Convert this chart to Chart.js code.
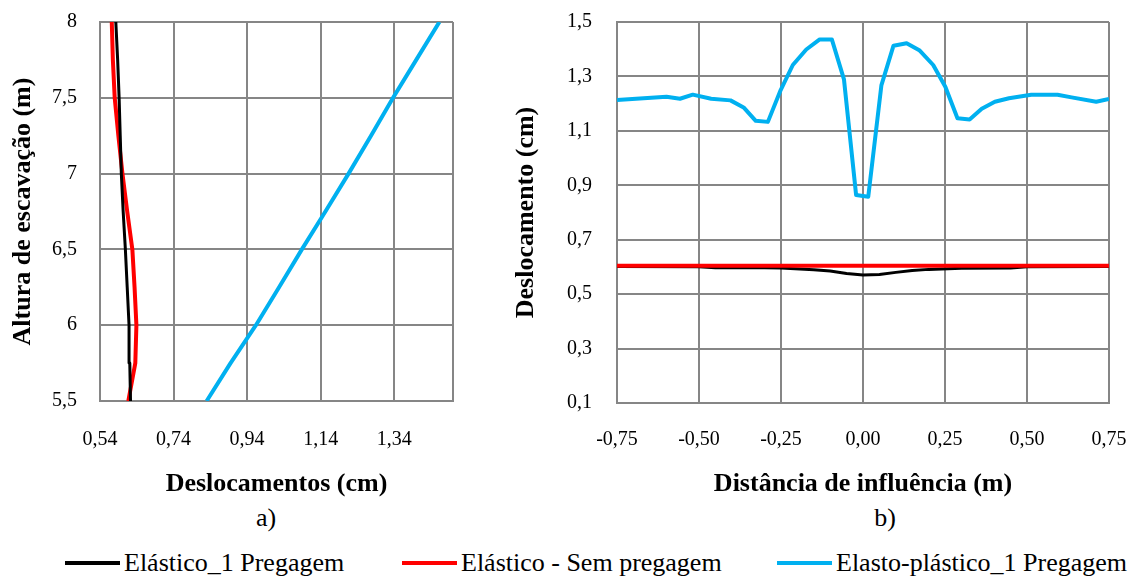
<!DOCTYPE html>
<html>
<head>
<meta charset="utf-8">
<script src="https://cdn.jsdelivr.net/npm/chart.js@4/dist/chart.umd.min.js"></script>
<style>
  html, body { margin: 0; padding: 0; background: #fff; }
  body { width: 1135px; height: 579px; position: relative; overflow: hidden; font-family: "Liberation Serif", serif; }
  #wrapA { position: absolute; left: 0; top: 0; width: 480px; height: 500px; }
  #wrapB { position: absolute; left: 490px; top: 0; width: 645px; height: 500px; }
  .sub { position: absolute; top: 503px; font-size: 26px; color: #000; transform: translateX(-50%); }
  .leg { position: absolute; top: 548px; height: 30px; display: flex; align-items: center; font-size: 26px; color: #000; white-space: nowrap; }
  .leg i { display: inline-block; width: 55px; height: 4px; margin-right: 4px; }
</style>
</head>
<body>
<div id="wrapA"><canvas id="chartA"></canvas></div>
<div id="wrapB"><canvas id="chartB"></canvas></div>
<div class="sub" style="left:266px">a)</div>
<div class="sub" style="left:885px">b)</div>
<div id="legend"></div>
<script>
// ---------- series names / colours ----------
const seriesNames = ["Elástico_1 Pregagem", "Elástico - Sem pregagem", "Elasto-plástico_1 Pregagem"];
const seriesColors = ["#000000", "#ff0000", "#00b0f0"];
const seriesWidths = [3, 4, 4];

// ---------- chart a) ----------
const heightsA = [5.5, 5.75, 6, 6.25, 6.5, 6.75, 7, 7.25, 7.5, 7.75, 8];
const blackA = [0.623, 0.621, 0.619, 0.614, 0.609, 0.603, 0.598, 0.595, 0.592, 0.588, 0.583];
const redA   = [0.617, 0.636, 0.639, 0.634, 0.628, 0.614, 0.601, 0.590, 0.580, 0.575, 0.572];
const blueA  = [0.830, 0.895, 0.964, 1.027, 1.089, 1.153, 1.216, 1.277, 1.337, 1.400, 1.463];
const xTicksA = [0.54, 0.74, 0.94, 1.14, 1.34, 1.50];
const xLabelsA = ["0,54", "0,74", "0,94", "1,14", "1,34", ""];
const yTicksA = [5.5, 6, 6.5, 7, 7.5, 8];
const yLabelsA = ["5,5", "6", "6,5", "7", "7,5", "8"];

// ---------- chart b) ----------
const blueXB = [-0.75, -0.599, -0.558, -0.519, -0.463, -0.404, -0.364, -0.327, -0.290, -0.251, -0.214, -0.173, -0.132, -0.095, -0.058, -0.021, 0.016, 0.056, 0.093, 0.133, 0.173, 0.214, 0.251, 0.288, 0.325, 0.362, 0.402, 0.445, 0.513, 0.593, 0.636, 0.711, 0.75];
const blueYB = [1.213, 1.225, 1.218, 1.233, 1.218, 1.212, 1.186, 1.137, 1.133, 1.250, 1.342, 1.399, 1.436, 1.436, 1.289, 0.864, 0.858, 1.267, 1.413, 1.422, 1.395, 1.342, 1.262, 1.146, 1.142, 1.181, 1.207, 1.220, 1.233, 1.233, 1.223, 1.207, 1.217];
const blackXB = [-0.75, -0.5, -0.45, -0.3, -0.25, -0.15, -0.1, -0.05, 0, 0.05, 0.1, 0.15, 0.2, 0.3, 0.45, 0.5, 0.75];
const blackYB = [0.602, 0.601, 0.597, 0.597, 0.596, 0.590, 0.585, 0.576, 0.570, 0.572, 0.580, 0.587, 0.591, 0.595, 0.596, 0.601, 0.602];
const redXB = [-0.75, -0.5, -0.25, 0, 0.25, 0.5, 0.75];
const redYB = [0.604, 0.604, 0.604, 0.604, 0.604, 0.604, 0.604];
const xTicksB = [-0.75, -0.5, -0.25, 0, 0.25, 0.5, 0.75];
const xLabelsB = ["-0,75", "-0,50", "-0,25", "0,00", "0,25", "0,50", "0,75"];
const yTicksB = [0.1, 0.3, 0.5, 0.7, 0.9, 1.1, 1.3, 1.5];
const yLabelsB = ["0,1", "0,3", "0,5", "0,7", "0,9", "1,1", "1,3", "1,5"];

// ---------- styling helpers ----------
const FONT = "'Liberation Serif', serif";
const GRID = "#868686";
function pts(xs, ys) { return xs.map((x, i) => ({ x: x, y: ys[i] })); }
function ds(idx, data, order) {
  return { label: seriesNames[idx], data: data, borderColor: seriesColors[idx], backgroundColor: seriesColors[idx],
           borderWidth: seriesWidths[idx], pointRadius: 0, tension: 0, fill: false, order: order };
}
function axis(opts) {
  return {
    type: 'linear', min: opts.min, max: opts.max,
    afterBuildTicks: (s) => { s.ticks = opts.values.map(v => ({ value: v })); },
    afterFit: (s) => { opts.afterFit(s); s.paddingTop = 0; s.paddingBottom = 0; s.paddingLeft = 0; s.paddingRight = 0; },
    grid: { color: GRID, lineWidth: 2, drawTicks: false },
    border: { display: true, color: GRID, width: 2 },
    ticks: { autoSkip: false, maxRotation: 0, minRotation: 0, callback: (v, i) => opts.labels[i],
             color: '#000', padding: opts.tickPad, font: { family: FONT, size: 20 } },
    title: { display: true, text: opts.title, color: '#000', padding: { top: opts.titlePad, bottom: 0 },
             font: { family: FONT, size: 26, weight: 'bold' } }
  };
}
const common = {
  responsive: true, maintainAspectRatio: false, animation: false,
  plugins: { legend: { display: false }, tooltip: { enabled: false } },
  elements: { line: { borderCapStyle: 'butt', borderJoinStyle: 'round' } }
};

new Chart(document.getElementById('chartA'), {
  type: 'line',
  data: { datasets: [
    ds(2, pts(blueA, heightsA), 3),
    ds(0, pts(blackA, heightsA), 1),
    ds(1, pts(redA, heightsA), 2)
  ] },
  options: Object.assign({}, common, {
    layout: { padding: { left: 0, right: 27, top: 22, bottom: 0 } },
    scales: {
      x: axis({ min: 0.54, max: 1.5, values: xTicksA, labels: xLabelsA, tickPad: 27, titlePad: 0,
                title: 'Deslocamentos (cm)', afterFit: s => { s.height = 99; } }),
      y: axis({ min: 5.5, max: 8, values: yTicksA, labels: yLabelsA, tickPad: 23, titlePad: 8,
                title: 'Altura de escavação (m)', afterFit: s => { s.width = 100; } })
    }
  })
});

new Chart(document.getElementById('chartB'), {
  type: 'line',
  data: { datasets: [
    ds(0, pts(blackXB, blackYB), 3),
    ds(1, pts(redXB, redYB), 2),
    ds(2, pts(blueXB, blueYB), 1)
  ] },
  options: Object.assign({}, common, {
    layout: { padding: { left: 0, right: 26, top: 22, bottom: 0 } },
    scales: {
      x: axis({ min: -0.75, max: 0.75, values: xTicksB, labels: xLabelsB, tickPad: 25, titlePad: 0,
                title: 'Distância de influência (m)', afterFit: s => { s.height = 97; } }),
      y: axis({ min: 0.1, max: 1.5, values: yTicksB, labels: yLabelsB, tickPad: 25, titlePad: 21,
                title: 'Deslocamento (cm)', afterFit: s => { s.width = 127; } })
    }
  })
});

// ---------- shared legend ----------
const legendLeft = [65, 402, 777];
const legend = document.getElementById('legend');
seriesNames.forEach((name, i) => {
  const d = document.createElement('div');
  d.className = 'leg';
  d.style.left = legendLeft[i] + 'px';
  const sw = document.createElement('i');
  sw.style.background = seriesColors[i];
  d.appendChild(sw);
  d.appendChild(document.createTextNode(name));
  legend.appendChild(d);
});
</script>
</body>
</html>
